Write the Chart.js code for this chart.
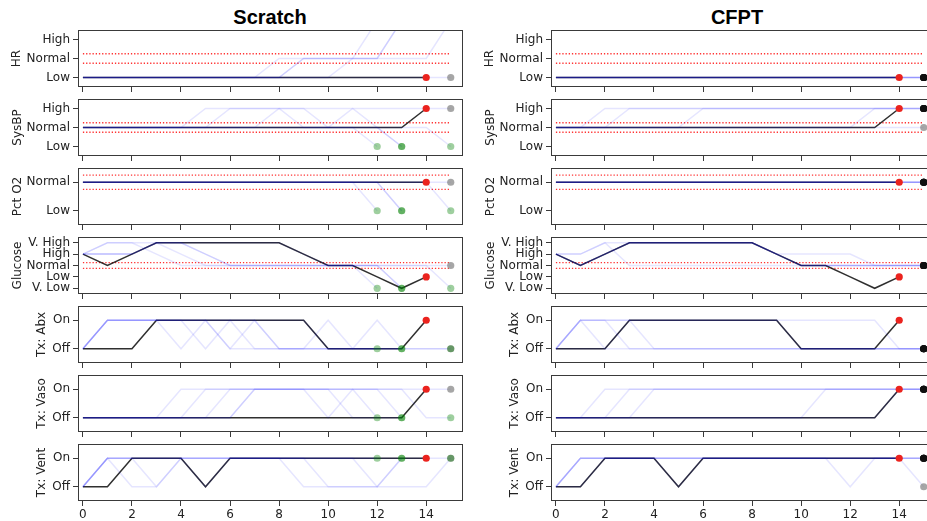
<!DOCTYPE html>
<html>
<head>
<meta charset="utf-8">
<script src="https://cdn.jsdelivr.net/npm/chart.js@4.4.0/dist/chart.umd.min.js"></script>
<style>
html,body{margin:0;padding:0;background:#fff;}
#wrap{position:relative;width:927px;height:521px;overflow:hidden;background:#fff;}
.cell{position:absolute;}
.ttl{position:absolute;top:6px;height:22px;line-height:22px;font:bold 20px "Liberation Sans",Arial,sans-serif;color:#000;transform:translateX(-50%);white-space:nowrap;}
</style>
</head>
<body>
<div id="wrap">
  <div class="ttl" style="left:270px">Scratch</div>
  <div class="ttl" style="left:737px">CFPT</div>
</div>
<script>
// ---------------- data ----------------
const columnTitles = ['Scratch', 'CFPT'];
const rowNames = ['HR', 'SysBP', 'Pct O2', 'Glucose', 'Tx: Abx', 'Tx: Vaso', 'Tx: Vent'];
const timeTicks = [0, 2, 4, 6, 8, 10, 12, 14];

const levelsHR = ['Low', 'Normal', 'High'];
const levelsSysBP = ['Low', 'Normal', 'High'];
const levelsO2 = ['Low', 'Normal'];
const levelsGlucose = ['V. Low', 'Low', 'Normal', 'High', 'V. High'];
const levelsTx = ['Off', 'On'];

// normal-range reference lines
const bandSpan = [0, 15];
const bandHR = [0.75, 1.25];
const bandSysBP = [0.75, 1.25];
const bandO2 = [0.75, 1.25];
const bandGlucose = [1.75, 2.25];

// observed trajectory (t = 0..14)
const obsHR      = [0,0,0,0,0,0,0,0,0,0,0,0,0,0,0];
const obsSysBP   = [1,1,1,1,1,1,1,1,1,1,1,1,1,1,2];
const obsO2      = [1,1,1,1,1,1,1,1,1,1,1,1,1,1,1];
const obsGlucose = [3,2,3,4,4,4,4,4,4,3,2,2,1,0,1];
const obsAbx     = [0,0,0,1,1,1,1,1,1,1,0,0,0,0,1];
const obsVaso    = [0,0,0,0,0,0,0,0,0,0,0,0,0,0,1];
const obsVent    = [0,0,1,1,1,0,1,1,1,1,1,1,1,1,1];

// Scratch simulated trajectories
const scratchOutcome = ['end', 'end', 'end', 'end', 'open'];
const scratchHR = [
  [0,0,0,0,0,0,0,0,0,0,0,1,3],
  [0,0,0,0,0,0,0,0,0,1,1,1,1,3],
  [0,0,0,0,0,0,0,0,0,1,1,1,1,3],
  [0,0,0,0,0,0,0,0,1,1,1,1,1,1,1,3],
  [0,0,0,0,0,0,0,0,0,0,0,0,0,0,0,0]
];
const scratchSysBP = [
  [1,1,1,1,1,1,1,1,1,1,1,1,0],
  [1,1,1,1,1,1,1,1,2,1,1,1,1,0],
  [1,1,1,1,1,1,1,1,1,1,1,1,1,0],
  [1,1,1,1,1,1,2,2,2,2,1,2,1,1,1,0],
  [1,1,1,1,1,2,2,2,2,2,2,2,2,2,2,2]
];
const scratchO2 = [
  [1,1,1,1,1,1,1,1,1,1,1,1,0],
  [1,1,1,1,1,1,1,1,1,1,1,1,1,0],
  [1,1,1,1,1,1,1,1,1,1,1,1,1,0],
  [1,1,1,1,1,1,1,1,1,1,1,1,1,1,1,0],
  [1,1,1,1,1,1,1,1,1,1,1,1,1,1,1,1]
];
const scratchGlucose = [
  [3,4,4,3,2,2,2,2,2,2,2,2,0],
  [3,3,3,4,4,3,2,2,2,2,2,2,2,0],
  [3,3,3,4,4,4,4,4,4,3,2,2,2,0],
  [3,4,4,4,3,2,2,2,2,2,2,2,2,2,2,0],
  [3,3,3,4,4,3,2,2,2,2,2,2,2,2,2,2]
];
const scratchAbx = [
  [0,1,1,1,0,1,0,0,0,0,0,0,0],
  [0,1,1,1,1,0,1,0,0,0,1,0,0,0],
  [0,1,1,1,1,1,0,1,0,0,0,0,1,0],
  [0,1,1,1,1,1,1,1,0,0,0,0,0,0,0,0],
  [0,1,1,1,1,1,1,1,1,1,0,0,0,0,0,0]
];
const scratchVaso = [
  [0,0,0,0,0,0,1,1,1,1,1,1,0],
  [0,0,0,0,0,0,0,1,1,1,0,1,1,0],
  [0,0,0,0,0,1,1,1,1,1,1,0,0,0],
  [0,0,0,0,0,0,0,1,1,1,1,1,1,1,0,0],
  [0,0,0,0,1,1,1,1,1,1,1,1,1,1,1,1]
];
const scratchVent = [
  [0,1,0,0,1,1,1,1,1,1,1,1,1],
  [0,1,1,0,1,1,1,1,1,1,0,0,0,1],
  [0,1,1,1,1,0,1,1,1,1,1,1,0,1],
  [0,1,1,1,1,1,1,1,1,0,0,0,0,0,0,1],
  [0,1,1,1,1,1,1,1,1,1,1,1,1,1,1,1]
];

// CFPT simulated trajectories
const cfptOutcome = ['goal', 'goal', 'goal', 'goal', 'open'];
const cfptHR = [
  [0,0,0,0,0,0,0,0,0,0,0,0,0,0,0,0],
  [0,0,0,0,0,0,0,0,0,0,0,0,0,0,0,0],
  [0,0,0,0,0,0,0,0,0,0,0,0,0,0,0,0],
  [0,0,0,0,0,0,0,0,0,0,0,0,0,0,0,0],
  [0,0,0,0,0,0,0,0,0,0,0,0,0,0,0,0]
];
const cfptSysBP = [
  [1,1,2,2,2,2,2,2,2,2,2,2,2,2,2,2],
  [1,1,1,2,2,2,2,2,2,2,2,2,2,2,2,2],
  [1,1,1,1,1,1,2,2,2,2,2,2,2,2,2,2],
  [1,1,1,1,1,1,1,1,1,1,1,1,1,2,2,2],
  [1,1,1,1,1,1,1,1,1,1,1,1,1,1,1,1]
];
const cfptO2 = [
  [1,1,1,1,1,1,1,1,1,1,1,1,1,1,1,1],
  [1,1,1,1,1,1,1,1,1,1,1,1,1,1,1,1],
  [1,1,1,1,1,1,1,1,1,1,1,1,1,1,1,1],
  [1,1,1,1,1,1,1,1,1,1,1,1,1,1,1,1],
  [1,1,1,1,1,1,1,1,1,1,1,1,1,1,1,1]
];
const cfptGlucose = [
  [3,3,4,2,2,2,2,2,2,2,2,2,2,2,2,2],
  [3,3,4,4,4,4,4,4,4,3,3,3,3,2,2,2],
  [3,2,3,4,4,4,4,4,4,3,2,2,2,2,2,2],
  [3,2,3,4,4,4,4,4,4,3,2,2,2,2,2,2],
  [3,2,3,4,4,4,4,4,4,3,2,2,2,2,2,2]
];
const cfptAbx = [
  [0,1,0,0,0,0,0,0,0,0,0,0,0,0,0,0],
  [0,1,1,0,0,0,0,0,0,0,0,0,0,0,0,0],
  [0,1,1,1,0,0,0,0,0,0,0,0,0,0,0,0],
  [0,1,1,1,1,1,1,1,1,1,1,1,1,1,0,0],
  [0,0,0,1,1,1,1,1,1,1,0,0,0,0,0,0]
];
const cfptVaso = [
  [0,0,1,1,1,1,1,1,1,1,1,1,1,1,1,1],
  [0,0,0,1,1,1,1,1,1,1,1,1,1,1,1,1],
  [0,0,0,0,1,1,1,1,1,1,1,1,1,1,1,1],
  [0,0,0,0,0,0,0,0,0,0,0,1,1,1,1,1],
  [0,0,0,0,0,0,0,0,0,0,0,0,0,0,1,1]
];
const cfptVent = [
  [0,1,1,1,1,1,1,1,1,1,1,1,1,1,1,1],
  [0,1,1,1,1,1,1,1,1,1,1,1,0,1,1,1],
  [0,1,1,1,1,1,1,1,1,1,1,1,1,1,1,1],
  [0,1,1,1,1,1,1,1,1,1,1,1,1,1,1,1],
  [0,0,1,1,1,0,1,1,1,1,1,1,1,1,1,0]
];

// ---------------- build ----------------
Chart.defaults.font.family = "'DejaVu Sans', sans-serif";
Chart.defaults.font.size = 12;
Chart.defaults.color = '#222';

const rows = [
  {levels: levelsHR,      obs: obsHR,      band: bandHR,      sims: [scratchHR, cfptHR]},
  {levels: levelsSysBP,   obs: obsSysBP,   band: bandSysBP,   sims: [scratchSysBP, cfptSysBP]},
  {levels: levelsO2,      obs: obsO2,      band: bandO2,      sims: [scratchO2, cfptO2]},
  {levels: levelsGlucose, obs: obsGlucose, band: bandGlucose, sims: [scratchGlucose, cfptGlucose]},
  {levels: levelsTx,      obs: obsAbx,     band: null,        sims: [scratchAbx, cfptAbx]},
  {levels: levelsTx,      obs: obsVaso,    band: null,        sims: [scratchVaso, cfptVaso]},
  {levels: levelsTx,      obs: obsVent,    band: null,        sims: [scratchVent, cfptVent]}
];
const outcomes = [scratchOutcome, cfptOutcome];

const outcomeColor = {
  end: 'rgba(0,128,0,0.38)',
  open: 'rgba(128,128,128,0.7)',
  goal: 'rgba(15,15,15,0.92)'
};

const ROW_TOP = [30, 99, 168, 237, 306, 375, 444];
const PLOT_H = 57;
const COL_LEFT = [0, 473];
const Y_AXIS_W = 78;
const CANVAS_W = 471;
const PAD_R = 8;
const PAD_T = 12;
const TITLE_CX = [16.5, 17.5, 17.5, 17.5, 41.5, 41.5, 41.5];

const framePlugin = {
  id: 'frame',
  afterDatasetsDraw(chart) {
    const a = chart.chartArea, ctx = chart.ctx;
    ctx.save();
    ctx.strokeStyle = '#3a3a3a';
    ctx.lineWidth = 1;
    const l = Math.round(a.left) + 0.5, t = Math.round(a.top) + 0.5;
    const r = Math.round(a.right) - 0.5, b = Math.round(a.bottom) - 0.5;
    ctx.strokeRect(l, t, r - l, b - t);
    ctx.restore();
  }
};

const wrap = document.getElementById('wrap');

rows.forEach((row, ri) => {
  const isBottom = ri === rows.length - 1;
  const xh = isBottom ? 22 : 8;
  const pb = isBottom ? 0 : 4;
  const H = PAD_T + PLOT_H + xh + pb;
  for (let ci = 0; ci < 2; ci++) {
    const div = document.createElement('div');
    div.className = 'cell';
    div.style.left = COL_LEFT[ci] + 'px';
    div.style.top = (ROW_TOP[ri] - PAD_T) + 'px';
    div.style.width = CANVAS_W + 'px';
    div.style.height = H + 'px';
    const cv = document.createElement('canvas');
    cv.width = CANVAS_W; cv.height = H;
    cv.style.width = CANVAS_W + 'px'; cv.style.height = H + 'px';
    div.appendChild(cv);
    wrap.appendChild(div);

    const sims = row.sims[ci];
    const outs = outcomes[ci];
    const ds = [];
    if (row.band) {
      row.band.forEach(v => ds.push({
        data: bandSpan.map(x => ({x, y: v})), showLine: true,
        borderColor: 'rgba(255,0,0,0.8)', borderWidth: 1.3, borderDash: [1.3, 1.9],
        pointRadius: 0, order: 6
      }));
    }
    ds.push({
      data: row.obs.map((y, x) => ({x, y})), showLine: true,
      borderColor: 'rgba(10,10,10,0.85)', borderWidth: 1.5, pointRadius: 0, order: 5
    });
    sims.forEach(t => ds.push({
      data: t.map((y, x) => ({x, y})), showLine: true,
      borderColor: 'rgba(0,0,255,0.1)', borderWidth: 1.5, pointRadius: 0, order: 4
    }));
    sims.forEach((t, i) => ds.push({
      data: [{x: t.length - 1, y: t[t.length - 1]}], showLine: false,
      pointRadius: 3.6, pointBackgroundColor: outcomeColor[outs[i]],
      pointBorderWidth: 0, pointBorderColor: 'rgba(0,0,0,0)',
      order: outs[i] === 'open' ? 2 : 1
    }));
    const last = row.obs.length - 1;
    ds.push({
      data: [{x: last, y: row.obs[last]}], showLine: false,
      pointRadius: 3.6, pointBackgroundColor: 'rgb(235,35,30)',
      pointBorderWidth: 0, pointBorderColor: 'rgba(0,0,0,0)', order: 0
    });

    const levels = row.levels;
    new Chart(cv, {
      type: 'scatter',
      data: {datasets: ds},
      plugins: [framePlugin],
      options: {
        responsive: false,
        animation: false,
        events: [],
        layout: {padding: {top: PAD_T, left: 0, right: PAD_R, bottom: pb}},
        plugins: {legend: {display: false}, tooltip: {enabled: false}},
        scales: {
          x: {
            type: 'linear', min: -0.2, max: 15.5,
            afterBuildTicks: s => { s.ticks = timeTicks.map(v => ({value: v})); },
            afterFit: s => { s.height = xh; },
            ticks: {display: isBottom, autoSkip: false, maxRotation: 0, padding: 2, color: '#222',
                    font: {size: 12}},
            grid: {drawOnChartArea: false, drawTicks: true, tickLength: 5, color: '#3a3a3a', lineWidth: 1},
            border: {display: false}
          },
          y: {
            type: 'linear', min: -0.5, max: levels.length - 0.5,
            afterBuildTicks: s => { s.ticks = levels.map((_, i) => ({value: i})); },
            afterFit: s => { s.width = Y_AXIS_W; },
            ticks: {autoSkip: false, padding: 3, color: '#222', font: {size: 12},
                    callback: v => levels[v]},
            grid: {drawOnChartArea: false, drawTicks: true, tickLength: 5, color: '#3a3a3a', lineWidth: 1},
            border: {display: false},
            title: {display: true, text: rowNames[ri], color: '#222', font: {size: 12},
                    padding: {top: TITLE_CX[ri] - 7.2, bottom: 0}}
          }
        }
      }
    });
  }
});
</script>
</body>
</html>
